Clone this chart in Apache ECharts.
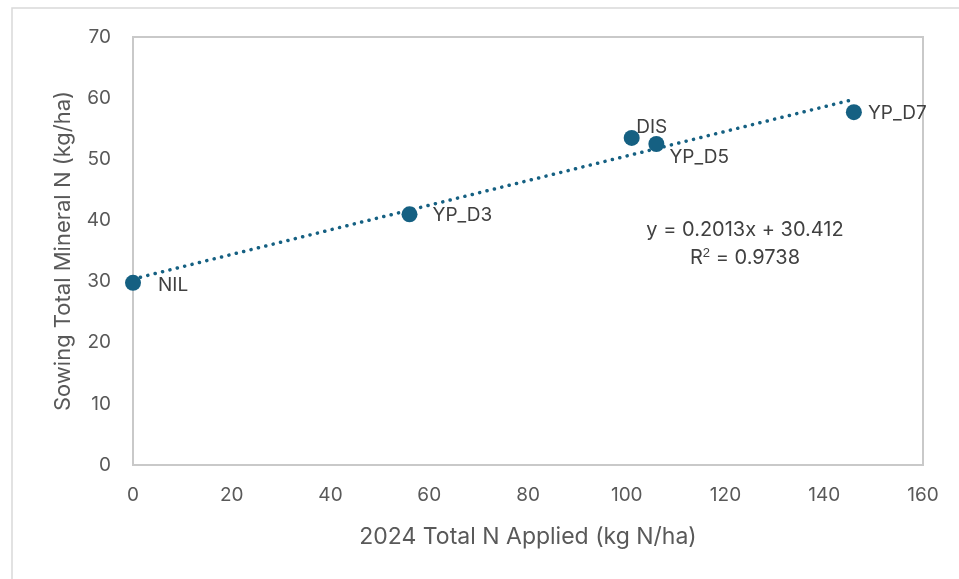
<!DOCTYPE html>
<html>
<head>
<meta charset="utf-8">
<script src="https://cdn.jsdelivr.net/npm/echarts@6/dist/echarts.min.js"></script>
<style>
  html, body { margin: 0; padding: 0; background: #fff; }
  #chart { width: 959px; height: 579px; }
</style>
</head>
<body>
<div id="chart"></div>
<script>
// treatment points
var names = ['NIL', 'YP_D3', 'DIS', 'YP_D5', 'YP_D7'];
var nApplied = [0, 56, 101, 106, 146];
var mineralN = [29.8, 41, 53.5, 52.5, 57.7];

// linear trendline ends (y = 0.2013x + 30.412)
var trendX = [0, 146];
var trendY = [30.412, 59.8];

var xTicks = [0, 20, 40, 60, 80, 100, 120, 140, 160];
var yTicks = [0, 10, 20, 30, 40, 50, 60, 70];

var FONT = 'Inter, "Open Sans", sans-serif';
var BLUE = '#156082';

// label placement per point
var labelPos = {
    'NIL': { position: 'right', offset: [12, 2] },
    'YP_D3': { position: 'right', offset: [10, 1] },
    'DIS': { position: 'top', offset: [20, 12] },
    'YP_D5': { position: 'right', offset: [0, 13] },
    'YP_D7': { position: 'right', offset: [1, 1] }
};

var points = names.map(function (n, i) {
    return {
        name: n,
        value: [nApplied[i], mineralN[i]],
        label: labelPos[n]
    };
});

var trend = trendX.map(function (x, i) { return [x, trendY[i]]; });

var myChart = echarts.init(document.getElementById('chart'));
var option = {
    animation: false,
    backgroundColor: '#fff',
    textStyle: { fontFamily: FONT },
    grid: {
        left: 133, right: 36, top: 37, bottom: 114,
        show: true, borderColor: '#c9c9c9', borderWidth: 2
    },
    graphic: [{
        type: 'rect',
        shape: { x: 12, y: 8, width: 960, height: 590 },
        style: { fill: 'none', stroke: '#d9d9d9', lineWidth: 1.5 },
        z: -1
    }, {
        type: 'text',
        x: 745, y: 230,
        style: {
            text: 'y = 0.2013x + 30.412',
            fontFamily: FONT, fontSize: 20, fill: '#404040',
            align: 'center', verticalAlign: 'middle'
        }
    }, {
        type: 'text',
        x: 745, y: 258,
        style: {
            text: 'R{s|2} = 0.9738',
            fontFamily: FONT, fontSize: 20, fill: '#404040',
            align: 'center', verticalAlign: 'middle',
            rich: { s: { fontSize: 13, fill: '#404040', verticalAlign: 'top', padding: [0, 0, 10, 0] } }
        }
    }],
    xAxis: {
        type: 'value',
        min: 0, max: 160, interval: 20,
        name: '2024 Total N Applied (kg N/ha)',
        nameLocation: 'middle',
        nameGap: 61,
        nameTextStyle: { fontSize: 23, color: '#595959', fontFamily: FONT },
        axisLine: { show: false },
        axisTick: { show: false },
        splitLine: { show: false },
        axisLabel: {
            fontSize: 19, color: '#595959', margin: 21, fontFamily: FONT,
            formatter: function (v) { return xTicks.indexOf(v) >= 0 ? String(v) : ''; }
        }
    },
    yAxis: {
        type: 'value',
        min: 0, max: 70, interval: 10,
        name: 'Sowing Total Mineral N (kg/ha)',
        nameLocation: 'middle',
        nameGap: 59,
        nameTextStyle: { fontSize: 22, color: '#595959', fontFamily: FONT },
        axisLine: { show: false },
        axisTick: { show: false },
        splitLine: { show: false },
        axisLabel: {
            fontSize: 19, color: '#595959', margin: 22, fontFamily: FONT,
            formatter: function (v) { return yTicks.indexOf(v) >= 0 ? String(v) : ''; }
        }
    },
    series: [{
        type: 'line',
        data: trend,
        symbol: 'none',
        silent: true,
        lineStyle: { color: BLUE, width: 3.5, type: [0.1, 7.5], cap: 'round' },
        z: 2
    }, {
        type: 'scatter',
        data: points,
        symbol: 'circle',
        symbolSize: 16,
        itemStyle: { color: BLUE, opacity: 1 },
        label: {
            show: true,
            formatter: '{b}',
            fontSize: 19,
            color: '#404040',
            fontFamily: FONT
        },
        z: 3
    }]
};

if (option && typeof option === "object") {
    myChart.setOption(option, true);
}
</script>
</body>
</html>
